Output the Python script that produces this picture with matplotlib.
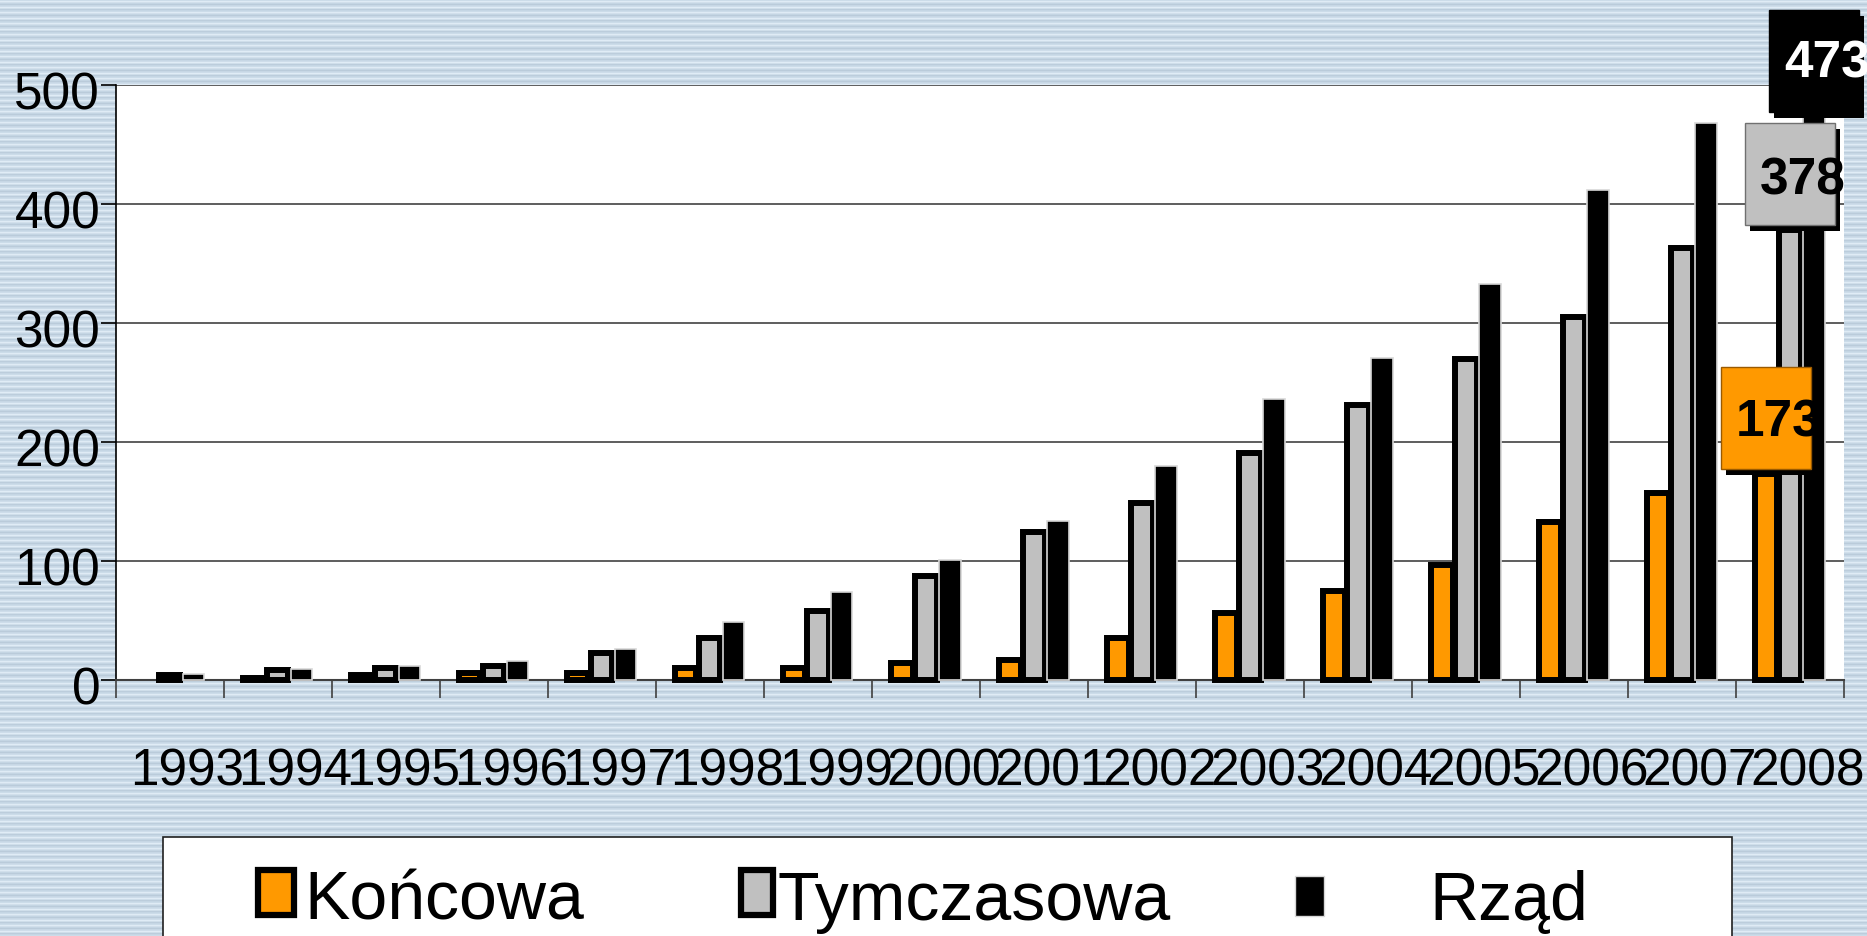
import numpy as np
import matplotlib
matplotlib.use('Agg')
import matplotlib.pyplot as plt
from matplotlib.patches import Rectangle
from matplotlib.transforms import ScaledTranslation

plt.rcParams['font.family'] = ['Liberation Sans', 'DejaVu Sans']

# -------------------- Data --------------------
years = ['1993', '1994', '1995', '1996', '1997', '1998', '1999', '2000',
         '2001', '2002', '2003', '2004', '2005', '2006', '2007', '2008']
koncowa = [np.nan, 2, 4, 6, 6, 10, 10, 14, 17, 35, 56, 75, 97, 133, 157, 173]
tymczasowa = [4, 8, 10, 12, 23, 35, 58, 87, 124, 149, 191, 231, 270, 305, 363, 378]
rzad = [5, 9, 12, 16, 26, 49, 74, 101, 134, 180, 236, 271, 333, 412, 468, 473]
series_names = ['Końcowa', 'Tymczasowa', 'Rząd']
y_ticks = [0, 100, 200, 300, 400, 500]

ORANGE = '#ff9900'
GRAY = '#c0c0c0'

# -------------------- Figure + striped background --------------------
W, H, DPI = 1867, 937, 100
fig = plt.figure(figsize=(W / DPI, H / DPI), dpi=DPI)

bg = fig.add_axes([0, 0, 1, 1], zorder=-10)
stripe = np.array([[197, 214, 228], [204, 220, 233], [223, 235, 245],
                   [209, 223, 235], [196, 213, 227], [186, 203, 218],
                   [199, 215, 229], [206, 221, 234], [224, 236, 246],
                   [207, 222, 234], [188, 205, 220]]) / 255
rows = np.arange(H)
bg.imshow(stripe[rows % len(stripe)][:, None, :], aspect='auto',
          interpolation='nearest', extent=[0, 1, 0, 1])
bg.axis('off')

# -------------------- Main axes --------------------
ax_left, ax_right, ax_top, ax_zero = 115.5, 1844, 86, 681
ax = fig.add_axes([ax_left / W, (H - ax_zero) / H,
                   (ax_right - ax_left) / W, (ax_zero - ax_top) / H])
ax.set_facecolor('white')

x = np.arange(len(years))
bw = 0.2
off = 0.222
ax.bar(x - off, koncowa, bw, color=ORANGE, edgecolor='black', linewidth=4.3,
       zorder=3, clip_on=False)
ax.bar(x, tymczasowa, bw, color=GRAY, edgecolor='black', linewidth=4.3,
       zorder=3, clip_on=False)
ax.bar(x + off, rzad, bw, color='black', edgecolor='#d8d8d8', linewidth=1.2,
       zorder=3, clip_on=False)

ax.set_xlim(-0.5, len(years) - 0.5)
ax.set_ylim(0, 500)
ax.set_yticks(y_ticks)
ax.yaxis.grid(True, color='#505050', linewidth=1.3)
ax.set_axisbelow(True)

ax.set_xticks(x)
ax.set_xticklabels(years)
ax.set_xticks(np.arange(-0.5, len(years)), minor=True)
ax.tick_params(axis='x', which='major', length=0, pad=48, labelsize=37)
ax.tick_params(axis='x', which='minor', length=13, width=1.2,
               color='#404040', direction='out')
ax.tick_params(axis='y', length=11, width=1.2, color='black', pad=0,
               labelsize=37)

for lab in ax.get_xticklabels():
    lab.set_transform(lab.get_transform() +
                      ScaledTranslation(18 / DPI, 0, fig.dpi_scale_trans))
for lab in ax.get_yticklabels():
    lab.set_transform(lab.get_transform() +
                      ScaledTranslation(0, -5 / DPI, fig.dpi_scale_trans))

ax.spines['top'].set_visible(False)
ax.spines['right'].set_visible(False)
ax.spines['left'].set_color('black')
ax.spines['left'].set_linewidth(1.2)
ax.spines['bottom'].set_color('#404040')
ax.spines['bottom'].set_linewidth(1.5)

# -------------------- Data labels on the last year --------------------
xpx = (len(years)) / (ax_right - ax_left)   # data x per pixel
ypx = 500 / (ax_zero - ax_top)              # data y per pixel
box_w, box_h = 90 * xpx, 102 * ypx
label_specs = [
    (-off, koncowa, ORANGE, '#9a5a00', 'black', 34),
    (0, tymczasowa, GRAY, '#707070', 'black', 32),
    (off, rzad, 'black', 'black', 'white', 36),
]
for dx, vals, face, edge, tcol, base in label_specs:
    v = vals[-1]
    bx = x[-1] + dx
    left = bx - box_w / 2
    bottom = v + 5 * ypx
    ax.add_patch(Rectangle((left + 5 * xpx, bottom - 6 * ypx), box_w, box_h,
                           facecolor='black', edgecolor='none',
                           zorder=6, clip_on=False))
    ax.add_patch(Rectangle((left, bottom), box_w, box_h, facecolor=face,
                           edgecolor=edge, linewidth=1.0, zorder=7,
                           clip_on=False))
    ax.text(bx + 13 * xpx, bottom + base * ypx, str(int(v)), ha='center',
            va='baseline', fontsize=37, fontweight='bold', color=tcol,
            zorder=8, clip_on=False)

# -------------------- Legend box --------------------
def fx(p):
    return p / W

def fy(p):
    return 1 - p / H

fig.add_artist(Rectangle((fx(163), fy(1000)), fx(1732) - fx(163),
                         fy(838) - fy(1000), transform=fig.transFigure,
                         facecolor='white', edgecolor='#202020',
                         linewidth=1.2, zorder=1))

handles = [
    (258, 871, 36, 45, ORANGE, 'black', 4.5),
    (741, 871, 32, 45, GRAY, 'black', 4.5),
    (1295, 877, 29, 40, 'black', '#d8d8d8', 1.0),
]
text_x = [304, 777, 1429]
for (hx, hy, hw, hh, face, edge, lw), tx, name in zip(handles, text_x, series_names):
    fig.add_artist(Rectangle((fx(hx), fy(hy + hh)), fx(hw), hh / H,
                             transform=fig.transFigure, facecolor=face,
                             edgecolor=edge, linewidth=lw, zorder=2))
    fig.text(fx(tx), fy(920), name, fontsize=49, ha='left', va='baseline',
             zorder=3)

fig.savefig('out.png', dpi=DPI)
